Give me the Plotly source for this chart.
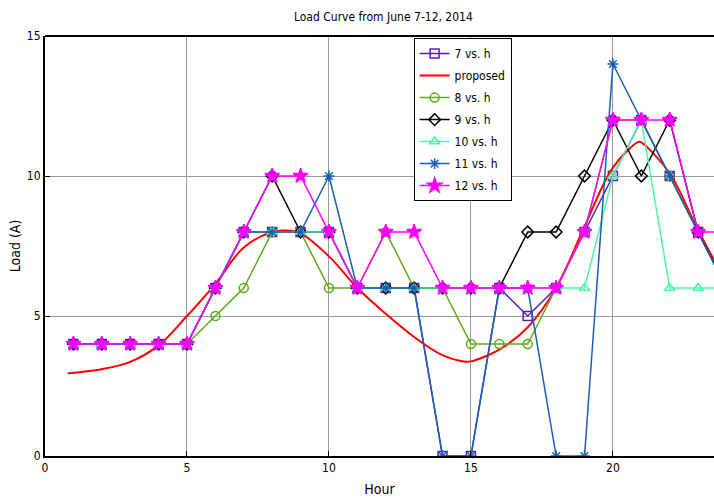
import plotly.graph_objects as go

hours = list(range(1, 25))
load_7 = [4, 4, 4, 4, 4, 6, 8, 8, 8, 8, 6, 6, 6, 0, 0, 6, 5, 6, 8, 10, 12, 10, 8, 6]
load_8 = [4, 4, 4, 4, 4, 5, 6, 8, 8, 6, 6, 8, 6, 6, 4, 4, 4, 6, 8, 12, 12, 10, 8, 6]
load_9 = [4, 4, 4, 4, 4, 6, 8, 10, 8, 8, 6, 6, 6, 6, 6, 6, 8, 8, 10, 12, 10, 12, 8, 6]
load_10 = [4, 4, 4, 4, 4, 6, 8, 8, 8, 8, 6, 6, 6, 6, 6, 6, 6, 6, 6, 10, 12, 6, 6, 6]
load_11 = [4, 4, 4, 4, 4, 6, 8, 8, 8, 10, 6, 6, 6, 0, 0, 6, 6, 0, 0, 14, 12, 10, 8, 6]
load_12 = [4, 4, 4, 4, 4, 6, 8, 10, 10, 8, 6, 8, 8, 6, 6, 6, 6, 6, 8, 12, 12, 12, 8, 8]

proposed_x = [0.8, 1, 2, 3, 4, 5, 6, 7, 8, 8.5, 9, 10, 11, 12, 13, 14, 14.8, 15, 16, 17,
              18, 19, 20, 20.9, 21, 22, 23, 24]
proposed_y = [2.95, 2.97, 3.1, 3.36, 3.95, 5.0, 6.15, 7.45, 8.0, 8.05, 7.95, 7.13, 6.0, 5.08,
              4.25, 3.6, 3.37, 3.38, 3.8, 4.6, 6.0, 8.2, 10.3, 11.22, 11.2, 10.1, 8.06, 6.2]

FONT = "DejaVu Sans Condensed, Liberation Sans Narrow, Arial Narrow, Liberation Sans, sans-serif"

fig = go.Figure()


def add_series(y, name, color, symbol, size=9, width=1.5):
    fig.add_trace(go.Scatter(
        x=hours, y=y, name=name, mode="lines+markers", legendgroup=name,
        line=dict(color=color, width=width),
        marker=dict(symbol=symbol, size=size, color=color,
                    line=dict(color=color, width=1.5)),
    ))


add_series(load_7, "7 vs. h", "#5b1fae", "square-open")
fig.add_trace(go.Scatter(
    x=proposed_x, y=proposed_y, name="proposed", mode="lines", legendgroup="proposed",
    line=dict(color="#ff0000", width=2, shape="spline", smoothing=1.0),
))
add_series(load_8, "8 vs. h", "#5fac12", "circle-open")
add_series(load_9, "9 vs. h", "#000000", "diamond-open")
add_series(load_10, "10 vs. h", "#50f5a6", "triangle-up-open")
add_series(load_11, "11 vs. h", "#1a5fb4", "asterisk-open")
add_series(load_12, "12 vs. h", "#ff00ff", "star", size=11)

fig.update_layout(
    width=714, height=499,
    margin=dict(l=45, r=0, t=36, b=43, autoexpand=False),
    paper_bgcolor="white", plot_bgcolor="white",
    font=dict(family=FONT, size=12, color="black"),
    title=dict(text="Load Curve from June 7-12, 2014", x=0.537, xanchor="center",
               y=0.966, yanchor="middle", font=dict(family=FONT, size=12)),
    showlegend=True,
    legend=dict(x=0.551, y=0.995, xanchor="left", yanchor="top",
                bgcolor="white", bordercolor="black", borderwidth=1,
                font=dict(family=FONT, size=12), itemwidth=30,
                tracegroupgap=3),
    xaxis=dict(range=[0, 23.56], tickvals=[0, 5, 10, 15, 20], showgrid=True,
               gridcolor="#9a9a9a", gridwidth=1, showline=True, linecolor="black",
               linewidth=2, mirror=False, ticks="inside", ticklen=5, tickcolor="black",
               zeroline=False, automargin=False,
               title=dict(text="Hour", standoff=10)),
    yaxis=dict(range=[0, 15], tickvals=[0, 5, 10, 15], showgrid=True,
               gridcolor="#9a9a9a", gridwidth=1, showline=True, linecolor="black",
               linewidth=2, mirror=False, ticks="inside", ticklen=5, tickcolor="black",
               zeroline=False, automargin=False,
               title=dict(text="Load (A)", standoff=3)),
)

# top border line of the axes box
fig.add_shape(type="line", xref="paper", yref="paper", x0=0, x1=1, y0=1, y1=1,
              line=dict(color="black", width=2), layer="above")

fig.write_html("out.html", config={"displayModeBar": False},
               post_script="document.body.style.margin='0';document.body.style.overflow='hidden';")
